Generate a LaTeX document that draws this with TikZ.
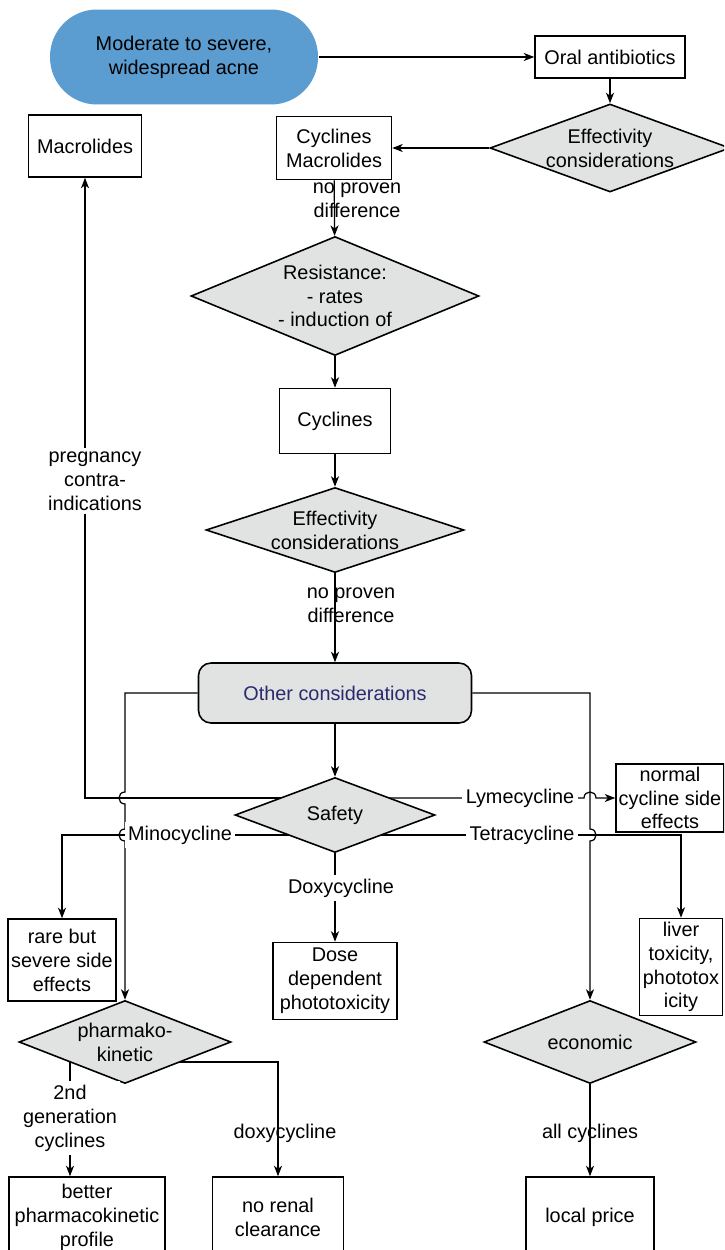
\documentclass[tikz,border=0pt]{standalone}
\usepackage{fontspec}
\setmainfont{Liberation Sans}
\usetikzlibrary{shapes.geometric,arrows.meta,backgrounds}

\definecolor{acneblue}{RGB}{91,157,209}
\definecolor{boxgray}{RGB}{225,227,226}
\definecolor{navytext}{RGB}{43,42,110}

\tikzset{
  box/.style={draw,line width=0.9pt,align=center,inner sep=1pt},
  decision/.style={diamond,draw,line width=0.9pt,fill=boxgray,align=center,inner sep=-40pt},
  lbl/.style={align=center,inner sep=1pt},
  masklbl/.style={lbl,fill=white,inner sep=2pt},
  arr/.style={line width=0.7pt,-{Stealth[length=6pt,width=4.6pt,inset=1.8pt]}},
}

\begin{document}
\begin{tikzpicture}[x=0.02cm,y=-0.02cm,font=\fontsize{11.3}{13.6}\selectfont]
  \useasboundingbox (0,0) rectangle (724,1250);
  \clip (0,0) rectangle (724,1250);

  % main column
  \node[box,draw=none,fill=acneblue,rounded corners=0.94cm,minimum width=5.36cm,minimum height=1.9cm] (acne) at (184,57) {Moderate to severe,\\widespread acne};
  \node[box,minimum width=3cm,minimum height=0.84cm] (oral) at (610,57) {Oral antibiotics};
  \node[decision,minimum width=4.8cm,minimum height=1.76cm] (eff1) at (610,148) {Effectivity\\considerations};
  \node[box,minimum width=2.3cm,minimum height=1.26cm] (cm) at (334,148) {Cyclines\\Macrolides};
  \node[box,minimum width=2.26cm,minimum height=1.24cm] (macro) at (85,146) {Macrolides};
  \node[decision,minimum width=5.76cm,minimum height=2.38cm] (res) at (335,296) {Resistance:\\- rates\\- induction of};
  \node[box,minimum width=2.22cm,minimum height=1.3cm] (cyc) at (335,421) {Cyclines};
  \node[decision,minimum width=5.16cm,minimum height=1.7cm] (eff2) at (335,530) {Effectivity\\considerations};
  \node[box,fill=boxgray,rounded corners=0.25cm,text=navytext,minimum width=5.46cm,minimum height=1.2cm] (oth) at (335,693) {Other considerations};
  \node[decision,minimum width=4cm,minimum height=1.5cm] (safety) at (335,815) {Safety};

  % outcomes of safety
  \node[box,minimum width=2.16cm,minimum height=1.36cm] (normal) at (670,798) {normal\\cycline side\\effects};
  \node[box,minimum width=2.16cm,minimum height=1.64cm] (rare) at (62,960) {rare but\\severe side\\effects};
  \node[box,minimum width=2.48cm,minimum height=1.54cm] (dose) at (335,981) {Dose\\dependent\\phototoxicity};
  \node[box,minimum width=1.66cm,minimum height=1.94cm] (liver) at (681,967) {liver\\toxicity,\\phototox\\icity};

  % pharmacokinetics and price
  \node[decision,minimum width=4.24cm,minimum height=1.66cm] (pk) at (125,1042) {pharmako-\\kinetic};
  \node[decision,minimum width=4.24cm,minimum height=1.66cm] (econ) at (590,1042) {economic};
  \node[box,minimum width=3.12cm,minimum height=1.6cm] (better) at (87,1217) {better\\pharmacokinetic\\profile};
  \node[box,minimum width=2.62cm,minimum height=1.6cm] (renal) at (278,1217) {no renal\\clearance};
  \node[box,minimum width=2.56cm,minimum height=1.6cm] (price) at (590,1217) {local price};

  % edge labels
  \node[lbl] (np1) at (357,200) {no proven\\difference};
  \node[lbl] (np2) at (351,605) {no proven\\difference};
  \node[masklbl] (preg) at (95,481) {pregnancy\\contra-\\indications};
  \node[masklbl] (lyme) at (520,798) {Lymecycline};
  \node[masklbl] (mino) at (180,835) {Minocycline};
  \node[masklbl] (tetra) at (522,835) {Tetracycline};
  \node[masklbl] (doxy) at (341,888) {Doxycycline};
  \node[masklbl] (gen2) at (70,1118) {2nd\\generation\\cyclines};
  \node[lbl] (doxy2) at (285,1133) {doxycycline};
  \node[lbl] (allc) at (590,1133) {all cyclines};

  \begin{pgfonlayer}{background}
    \draw[arr] (acne) -- (oral);
    \draw[arr] (oral) -- (eff1);
    \draw[arr] (eff1) -- (cm);
    \draw[arr] (cm) -- (res);
    \draw[arr] (res) -- (cyc);
    \draw[arr] (cyc) -- (eff2);
    \draw[arr] (eff2) -- (oth);
    \draw[arr] (oth) -- (safety);
    \draw[arr] (safety) -- (dose);
    \draw[arr] (econ) -- (price);

    \draw[arr] (safety.center |- lyme) -| (macro);
    \draw[arr] (safety.center |- lyme) -- (584,798) .. controls (584,790) and (596,790) .. (596,798) -- (normal);
    \draw[arr] (safety.center |- mino) -| (rare);
    \draw[arr] (safety.center |- tetra) -| (liver);

    % side branches with hops
    \draw[arr] (oth.west) -- (125,693) -- (125,792) .. controls (117,792) and (117,804) .. (125,804)
      -- (125,829) .. controls (117,829) and (117,841) .. (125,841) -- (pk);
    \draw[arr] (oth.east) -- (590,693) -- (590,829) .. controls (598,829) and (598,841) .. (590,841) -- (econ);

    \draw[arr] (pk.center -| gen2) -- (gen2 |- better.north);
    \draw[arr] (pk.center) ++(0,20) -| (renal);
  \end{pgfonlayer}
\end{tikzpicture}
\end{document}
